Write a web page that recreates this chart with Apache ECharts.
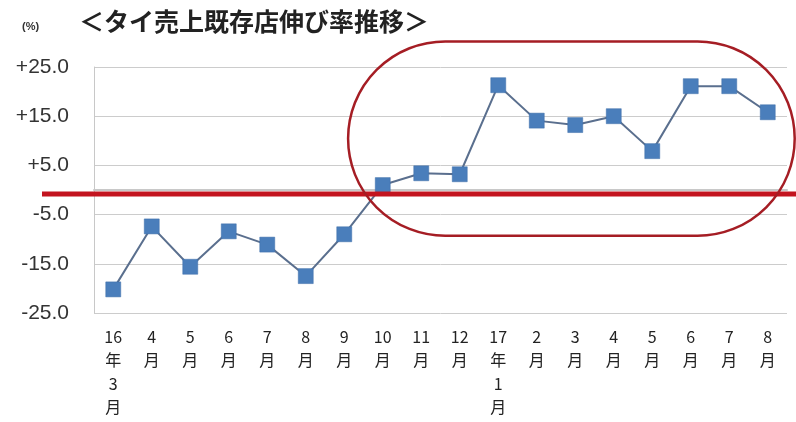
<!DOCTYPE html>
<html>
<head>
<meta charset="utf-8">
<script src="https://cdn.jsdelivr.net/npm/echarts@6/dist/echarts.min.js"></script>
<style>
html,body{margin:0;padding:0;background:#fff;}
#chart{width:796px;height:422px;}
</style>
</head>
<body>
<div id="chart"></div>
<script>
const titleText = '＜タイ売上既存店伸び率推移＞';
const unitText = '(%)';
const categories = ['16年3月','4月','5月','6月','7月','8月','9月','10月','11月','12月','17年1月','2月','3月','4月','5月','6月','7月','8月'];
const growth = [-20.2,-7.4,-15.6,-8.4,-11.1,-17.5,-9.0,1.0,3.4,3.2,21.3,14.1,13.2,15.0,7.9,21.1,21.1,15.8];
const yMin = -25, yMax = 25, yStep = 10;
const redLineValue = -0.8;
// highlighted region (category index range, value range)
const highlightX = [6.1, 17.7];
const highlightY = [30.2, -9.3];

const chart = echarts.init(document.getElementById('chart'), null, {renderer:'canvas'});
const option = {
  backgroundColor:'#ffffff',
  animation:false,
  grid:{left:94, right:9, top:67, bottom:109, containLabel:false},
  xAxis:{
    type:'category',
    data:categories,
    boundaryGap:true,
    axisLine:{show:true, lineStyle:{color:'#c8c8c8', width:2}},
    axisTick:{show:false},
    axisLabel:{
      interval:0,
      margin:12,
      fontSize:16,
      lineHeight:23.5,
      color:'#222222',
      fontFamily:'"Noto Sans CJK JP", sans-serif',
      formatter:function(v){ return v.match(/\d+|./g).join('\n'); }
    },
    splitLine:{show:false}
  },
  yAxis:{
    type:'value',
    min:yMin, max:yMax, interval:yStep,
    axisLine:{show:true, lineStyle:{color:'#c8c8c8', width:1}},
    axisTick:{show:false},
    axisLabel:{
      margin:25,
      fontSize:21,
      color:'#333333',
      fontFamily:'"Liberation Sans", Arial, sans-serif',
      formatter:function(v){ return (v>0?'+':'') + v.toFixed(1); }
    },
    splitLine:{show:true, lineStyle:{color:'#cccccc', width:1}}
  },
  series:[{
    type:'line',
    data:growth,
    symbol:'rect',
    symbolSize:15,
    lineStyle:{color:'#5a6f8e', width:2},
    itemStyle:{color:'#4a7ebb', borderColor:'#3f6fa8', borderWidth:0.5},
    z:3
  }]
};
chart.setOption(option);

// annotations anchored to the axes
const yPx = v => chart.convertToPixel({yAxisIndex:0}, v);
const x0 = chart.convertToPixel({xAxisIndex:0}, 0);
const x1 = chart.convertToPixel({xAxisIndex:0}, 1);
const band = x1 - x0;
const xPx = f => x0 + f*band;
const ry = yPx(redLineValue);
const ex = xPx(highlightX[0]), ex2 = xPx(highlightX[1]);
const ey = yPx(highlightY[0]), ey2 = yPx(highlightY[1]);

chart.setOption({
  graphic:[
    {type:'text', left:79, top:9, style:{text:titleText, fontSize:25, fontWeight:'bold', fill:'#222222', fontFamily:'"Noto Sans CJK JP", sans-serif'}},
    {type:'text', left:22, top:21, style:{text:unitText, fontSize:11, fontWeight:'bold', fill:'#333333', fontFamily:'"Liberation Sans", Arial, sans-serif'}},
    {type:'line', z:10, shape:{x1:42, y1:ry, x2:796, y2:ry}, style:{stroke:'#c3141f', lineWidth:5}},
    {type:'rect', z:11, shape:{x:ex, y:ey, width:ex2-ex, height:ey2-ey, r:(ey2-ey)/2}, style:{fill:null, stroke:'#a51d24', lineWidth:2.5}}
  ]
});
</script>
</body>
</html>
